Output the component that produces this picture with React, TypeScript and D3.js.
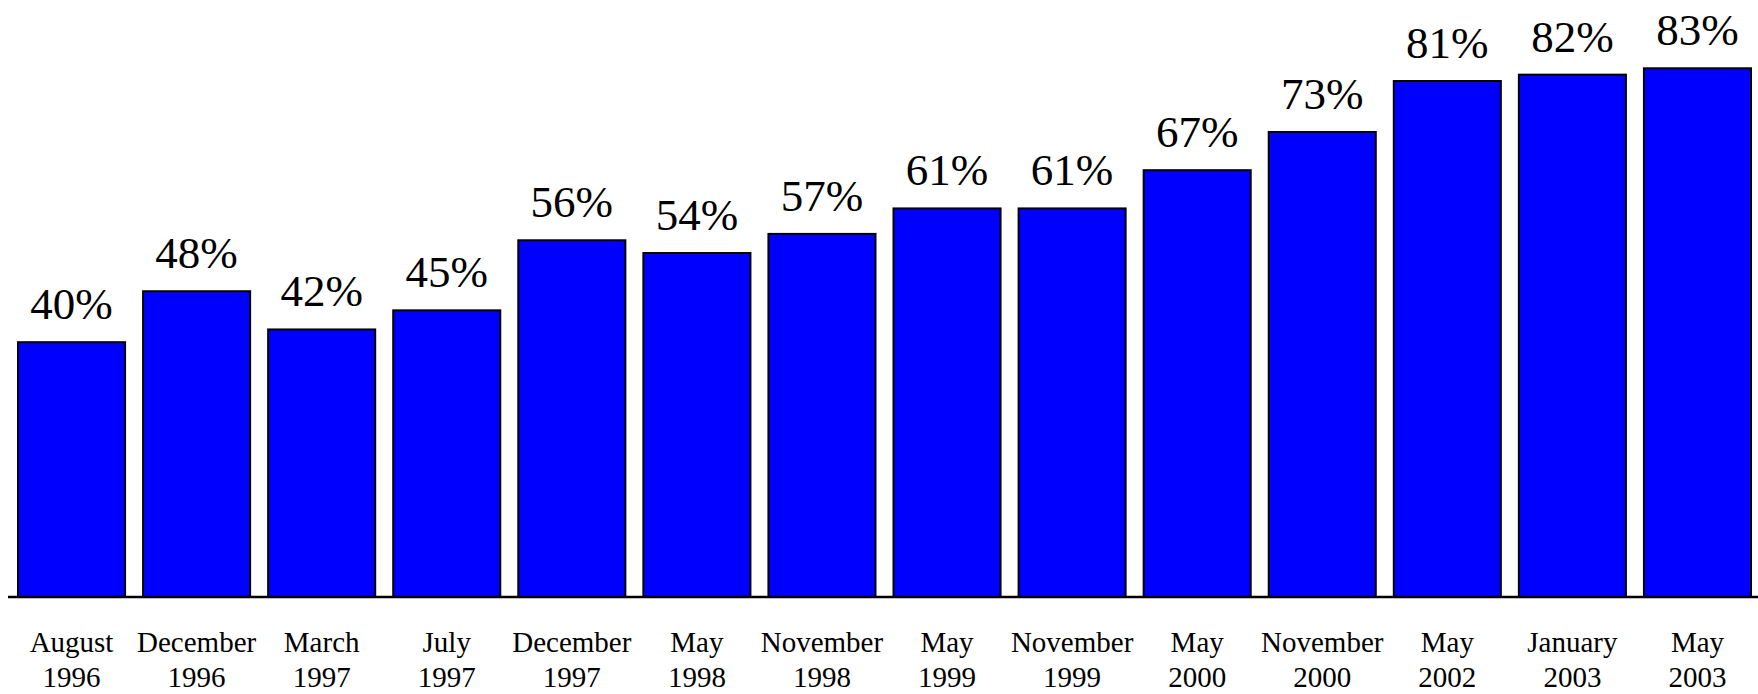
import React from "react";
import * as d3 from "d3";

const months = ["August", "December", "March", "July", "December", "May", "November", "May", "November", "May", "November", "May", "January", "May"];
const years = ["1996", "1996", "1997", "1997", "1997", "1998", "1998", "1999", "1999", "2000", "2000", "2002", "2003", "2003"];
const values = [40, 48, 42, 45, 56, 54, 57, 61, 61, 67, 73, 81, 82, 83];

const W = 1758;
const H = 694;

export default function App() {
  const keys = values.map((_, i) => String(i));
  const x = d3.scaleBand<string>().domain(keys).range([18, 1751]).paddingInner(0.144).paddingOuter(0);
  const y = d3.scaleLinear().domain([0, 100]).range([597, -40]);
  const font = "Liberation Serif, Times New Roman, serif";
  return (
    <svg width={W} height={H} style={{ position: "absolute", left: 0, top: 0, background: "#fff" }}>
      {values.map((v, i) => {
        const bx = x(String(i))!;
        const bw = x.bandwidth();
        return (
          <g key={i}>
            <rect x={bx} y={y(v)} width={bw} height={y(0) - y(v)} fill="#0000FF" stroke="#000" strokeWidth={2} />
            <text x={bx + bw / 2} y={y(v) - 23} textAnchor="middle" fontFamily={font} fontSize={45} fill="#000">
              {v}%
            </text>
            <text x={bx + bw / 2} y={652} textAnchor="middle" fontFamily={font} fontSize={29} fill="#000">
              {months[i]}
            </text>
            <text x={bx + bw / 2} y={687} textAnchor="middle" fontFamily={font} fontSize={29} fill="#000">
              {years[i]}
            </text>
          </g>
        );
      })}
      <line x1={8} x2={W} y1={597} y2={597} stroke="#000" strokeWidth={2.5} />
    </svg>
  );
}
